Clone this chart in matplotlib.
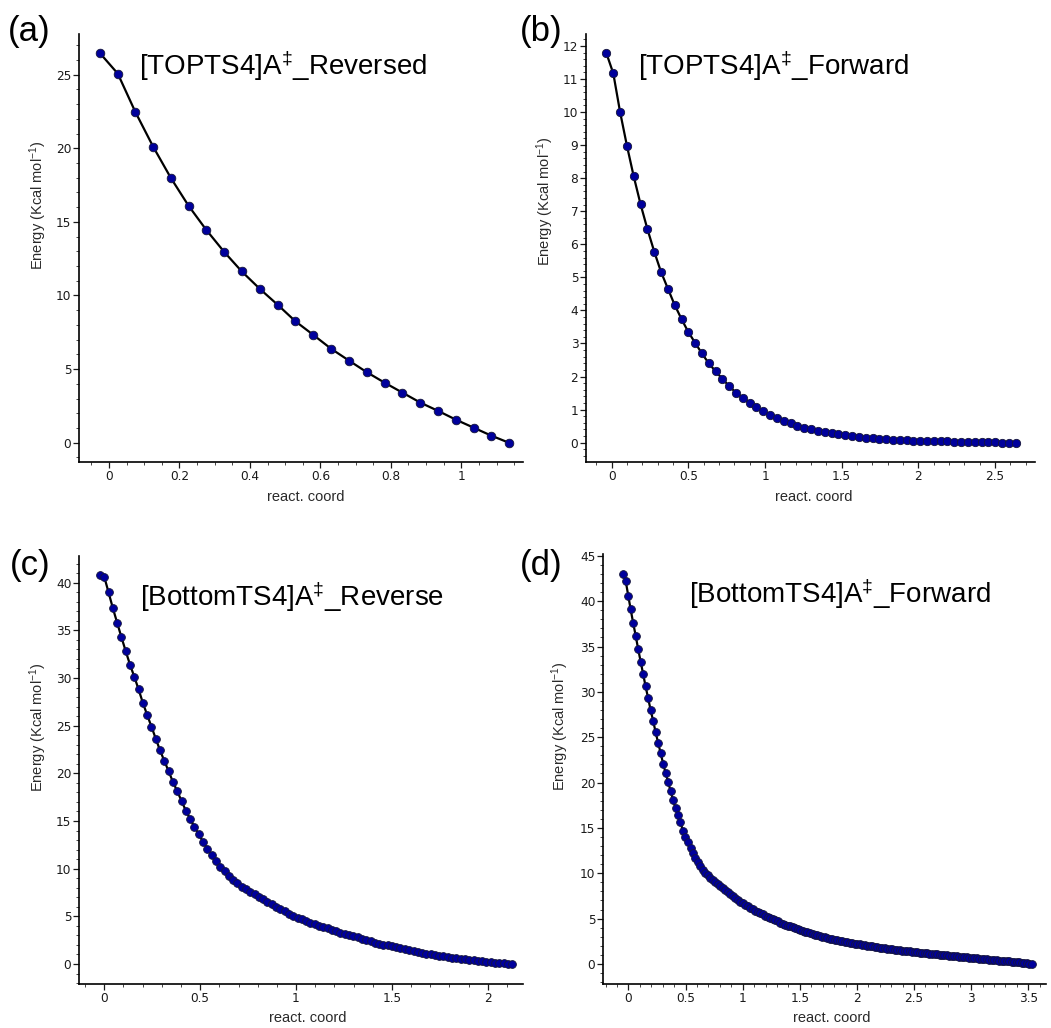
import matplotlib
matplotlib.use("Agg")
import matplotlib.pyplot as plt
from matplotlib.ticker import MultipleLocator, FuncFormatter

plt.rcParams["mathtext.fontset"] = "custom"
plt.rcParams["mathtext.rm"] = "Liberation Sans"
plt.rcParams["mathtext.it"] = "Liberation Sans"

# ---------------- data: IRC energy profiles ----------------
top_rev_x = [-0.026, 0.025, 0.075, 0.126, 0.176, 0.226, 0.276, 0.327, 0.377, 0.429,
             0.481, 0.529, 0.580, 0.630, 0.681, 0.731, 0.782, 0.833, 0.884, 0.935,
             0.985, 1.035, 1.085, 1.135]
top_rev_e = [26.47, 25.07, 22.46, 20.08, 17.97, 16.09, 14.46, 12.96, 11.63, 10.43,
             9.32, 8.25, 7.32, 6.39, 5.58, 4.80, 4.08, 3.40, 2.72, 2.15,
             1.56, 1.02, 0.48, 0.00]

top_fwd_x = [-0.035, 0.010, 0.054, 0.099, 0.143, 0.188, 0.232, 0.277, 0.321, 0.366,
             0.410, 0.455, 0.499, 0.544, 0.588, 0.633, 0.677, 0.722, 0.766, 0.811,
             0.855, 0.900, 0.944, 0.989, 1.033, 1.078, 1.122, 1.167, 1.211, 1.256,
             1.300, 1.345, 1.389, 1.434, 1.478, 1.523, 1.567, 1.612, 1.656, 1.701,
             1.745, 1.790, 1.834, 1.879, 1.923, 1.968, 2.012, 2.057, 2.101, 2.146,
             2.190, 2.235, 2.279, 2.324, 2.368, 2.413, 2.457, 2.502, 2.546, 2.591,
             2.635]
top_fwd_e = [11.78, 11.17, 10.01, 8.98, 8.06, 7.21, 6.47, 5.78, 5.17, 4.66,
             4.17, 3.74, 3.35, 3.02, 2.70, 2.40, 2.16, 1.93, 1.71, 1.51,
             1.36, 1.20, 1.08, 0.96, 0.84, 0.75, 0.67, 0.59, 0.51, 0.45,
             0.40, 0.36, 0.32, 0.28, 0.25, 0.22, 0.20, 0.17, 0.15, 0.13,
             0.11, 0.10, 0.09, 0.08, 0.07, 0.06, 0.06, 0.05, 0.04, 0.04,
             0.04, 0.03, 0.03, 0.02, 0.02, 0.01, 0.01, 0.01, 0.00, 0.00,
             0.00]

bot_rev_x = [-0.023, 0.000, 0.022, 0.045, 0.067, 0.089, 0.112, 0.134, 0.157, 0.179,
             0.201, 0.224, 0.246, 0.269, 0.291, 0.313, 0.336, 0.358, 0.381, 0.403,
             0.425, 0.448, 0.470, 0.493, 0.515, 0.537, 0.560, 0.582, 0.605, 0.627,
             0.649, 0.672, 0.694, 0.717, 0.739, 0.761, 0.784, 0.806, 0.829, 0.851,
             0.873, 0.896, 0.918, 0.941, 0.963, 0.985, 1.008, 1.030, 1.053, 1.075,
             1.097, 1.120, 1.142, 1.165, 1.187, 1.209, 1.232, 1.254, 1.277, 1.299,
             1.321, 1.344, 1.366, 1.389, 1.411, 1.433, 1.456, 1.478, 1.501, 1.523,
             1.545, 1.568, 1.590, 1.613, 1.635, 1.657, 1.680, 1.702, 1.725, 1.747,
             1.769, 1.792, 1.814, 1.837, 1.859, 1.881, 1.904, 1.926, 1.949, 1.971,
             1.993, 2.016, 2.038, 2.061, 2.083, 2.105, 2.128]
bot_rev_e = [40.8, 40.6, 39.0, 37.3, 35.8, 34.3, 32.8, 31.4, 30.1, 28.8,
             27.4, 26.1, 24.9, 23.6, 22.4, 21.3, 20.2, 19.1, 18.1, 17.1,
             16.1, 15.2, 14.4, 13.6, 12.8, 12.1, 11.4, 10.8, 10.2, 9.75,
             9.25, 8.82, 8.45, 8.12, 7.83, 7.56, 7.30, 7.04, 6.78, 6.52,
             6.26, 6.00, 5.75, 5.52, 5.28, 5.06, 4.86, 4.67, 4.50, 4.34,
             4.18, 4.02, 3.88, 3.73, 3.58, 3.44, 3.30, 3.17, 3.04, 2.92,
             2.80, 2.66, 2.52, 2.38, 2.25, 2.14, 2.04, 1.94, 1.84, 1.73,
             1.63, 1.54, 1.45, 1.36, 1.27, 1.18, 1.09, 1.02, 0.95, 0.88,
             0.82, 0.75, 0.68, 0.62, 0.57, 0.51, 0.45, 0.40, 0.34, 0.29,
             0.24, 0.19, 0.15, 0.11, 0.07, 0.03, 0.00]

bot_fwd_x = [-0.046, -0.024, -0.002, 0.019, 0.041, 0.063, 0.085, 0.107, 0.128, 0.150,
             0.172, 0.194, 0.216, 0.237, 0.259, 0.281, 0.303, 0.325, 0.346, 0.368,
             0.390, 0.412, 0.434, 0.455, 0.477, 0.499, 0.521, 0.543, 0.564, 0.586,
             0.608, 0.630, 0.652, 0.673, 0.695, 0.717, 0.739, 0.761, 0.782, 0.804,
             0.826, 0.848, 0.870, 0.891, 0.913, 0.935, 0.957, 0.979, 1.000, 1.022,
             1.044, 1.066, 1.088, 1.109, 1.131, 1.153, 1.175, 1.197, 1.218, 1.240,
             1.262, 1.284, 1.306, 1.327, 1.349, 1.371, 1.393, 1.415, 1.436, 1.458,
             1.480, 1.502, 1.524, 1.545, 1.567, 1.589, 1.611, 1.633, 1.654, 1.676,
             1.698, 1.720, 1.742, 1.763, 1.785, 1.807, 1.829, 1.851, 1.872, 1.894,
             1.916, 1.938, 1.960, 1.981, 2.003, 2.025, 2.047, 2.069, 2.090, 2.112,
             2.134, 2.156, 2.178, 2.199, 2.221, 2.243, 2.265, 2.287, 2.308, 2.330,
             2.352, 2.374, 2.396, 2.417, 2.439, 2.461, 2.483, 2.505, 2.526, 2.548,
             2.570, 2.592, 2.614, 2.635, 2.657, 2.679, 2.701, 2.723, 2.744, 2.766,
             2.788, 2.810, 2.832, 2.853, 2.875, 2.897, 2.919, 2.941, 2.962, 2.984,
             3.006, 3.028, 3.050, 3.071, 3.093, 3.115, 3.137, 3.159, 3.180, 3.202,
             3.224, 3.246, 3.268, 3.289, 3.311, 3.333, 3.355, 3.377, 3.398, 3.420,
             3.442, 3.464, 3.486, 3.507, 3.529]
bot_fwd_e = [42.98, 42.2, 40.6, 39.1, 37.6, 36.2, 34.7, 33.3, 32.0, 30.6,
             29.3, 28.0, 26.8, 25.6, 24.4, 23.3, 22.1, 21.1, 20.1, 19.1,
             18.1, 17.2, 16.4, 15.6, 14.7, 14.0, 13.4, 12.8, 12.2, 11.7,
             11.2, 10.8, 10.4, 10.05, 9.8, 9.53, 9.29, 9.04, 8.81, 8.58,
             8.35, 8.12, 7.90, 7.69, 7.47, 7.25, 7.05, 6.86, 6.69, 6.51,
             6.35, 6.19, 6.03, 5.88, 5.74, 5.60, 5.46, 5.34, 5.22, 5.10,
             4.96, 4.83, 4.70, 4.57, 4.45, 4.34, 4.23, 4.13, 4.03, 3.94,
             3.84, 3.75, 3.66, 3.56, 3.47, 3.38, 3.30, 3.23, 3.16, 3.09,
             3.01, 2.94, 2.86, 2.79, 2.73, 2.67, 2.62, 2.56, 2.51, 2.45,
             2.39, 2.33, 2.29, 2.24, 2.20, 2.15, 2.10, 2.06, 2.02, 1.97,
             1.93, 1.88, 1.84, 1.80, 1.76, 1.72, 1.69, 1.65, 1.62, 1.59,
             1.55, 1.52, 1.48, 1.45, 1.41, 1.38, 1.35, 1.31, 1.28, 1.25,
             1.22, 1.20, 1.17, 1.14, 1.12, 1.09, 1.06, 1.03, 1.01, 0.98,
             0.95, 0.93, 0.90, 0.87, 0.84, 0.82, 0.79, 0.76, 0.73, 0.71,
             0.68, 0.65, 0.62, 0.59, 0.56, 0.54, 0.51, 0.49, 0.46, 0.43,
             0.41, 0.38, 0.36, 0.33, 0.30, 0.28, 0.26, 0.23, 0.21, 0.18,
             0.15, 0.12, 0.08, 0.04, 0.00]

panel_letters = ["(a)", "(b)", "(c)", "(d)"]
panel_titles = [r"[TOPTS4]A$^{\ddag}$_Reversed",
                r"[TOPTS4]A$^{\ddag}$_Forward",
                r"[BottomTS4]A$^{\ddag}$_Reverse",
                r"[BottomTS4]A$^{\ddag}$_Forward"]
y_label = r"Energy (Kcal mol$^{-1}$)"
x_label = "react. coord"

# ---------------- layout ----------------
W, H = 1051, 1028
fig = plt.figure(figsize=(W / 100, H / 100), dpi=100)
fig.patch.set_facecolor("white")


def px_axes(left, top, right, bottom):
    return fig.add_axes([left / W, 1 - bottom / H, (right - left) / W, (bottom - top) / H])


panels = [
    dict(box=(79, 34, 523, 462), xlim=(-0.085, 1.175), ylim=(-1.31, 27.76),
         xmaj=0.2, xmin=0.05, ymaj=5, ymin=1, x=top_rev_x, y=top_rev_e, ms=6.2,
         title_xy=(0.136, 0.925), ylab_xy=(-0.067, 0.60), xlab_xy=(0.51, -0.066),
         letter_xy=(8, 32)),
    dict(box=(586, 34, 1035, 462), xlim=(-0.168, 2.761), ylim=(-0.584, 12.36),
         xmaj=0.5, xmin=0.1, ymaj=1, ymin=0.2, x=top_fwd_x, y=top_fwd_e, ms=6.0,
         title_xy=(0.116, 0.925), ylab_xy=(-0.067, 0.61), xlab_xy=(0.508, -0.066),
         letter_xy=(520, 32)),
    dict(box=(79, 556, 523, 984), xlim=(-0.132, 2.184), ylim=(-2.10, 42.8),
         xmaj=0.5, xmin=0.1, ymaj=5, ymin=1, x=bot_rev_x, y=bot_rev_e, ms=5.6,
         title_xy=(0.137, 0.904), ylab_xy=(-0.067, 0.60), xlab_xy=(0.516, -0.062),
         letter_xy=(10, 565)),
    dict(box=(603, 554, 1046, 984), xlim=(-0.223, 3.655), ylim=(-2.21, 45.2),
         xmaj=0.5, xmin=0.1, ymaj=5, ymin=1, x=bot_fwd_x, y=bot_fwd_e, ms=5.6,
         title_xy=(0.195, 0.907), ylab_xy=(-0.073, 0.60), xlab_xy=(0.516, -0.062),
         letter_xy=(520, 565)),
]

fmt = FuncFormatter(lambda v, p: "{:g}".format(round(v, 6) + 0.0))

for p, letter, title in zip(panels, panel_letters, panel_titles):
    ax = px_axes(*p["box"])
    ax.plot(p["x"], p["y"], color="black", lw=1.6, marker="o", ms=p["ms"],
            mfc="#00009c", mec="#15153a", mew=0.6, zorder=3, clip_on=False)
    ax.set_xlim(*p["xlim"])
    ax.set_ylim(*p["ylim"])
    for side in ("top", "right"):
        ax.spines[side].set_visible(False)
    for side in ("left", "bottom"):
        ax.spines[side].set_linewidth(1.2)
    ax.xaxis.set_major_locator(MultipleLocator(p["xmaj"]))
    ax.xaxis.set_minor_locator(MultipleLocator(p["xmin"]))
    ax.yaxis.set_major_locator(MultipleLocator(p["ymaj"]))
    ax.yaxis.set_minor_locator(MultipleLocator(p["ymin"]))
    ax.xaxis.set_major_formatter(fmt)
    ax.yaxis.set_major_formatter(fmt)
    ax.tick_params(axis="both", which="major", direction="out", length=4, width=0.9,
                   labelsize=8.7, colors="#1a1a1a", pad=1.5)
    ax.tick_params(axis="both", which="minor", direction="out", length=2.5, width=0.7,
                   color="#444444")
    for lab in ax.get_xticklabels() + ax.get_yticklabels():
        lab.set_family("DejaVu Sans")
    ax.set_ylabel(y_label, fontsize=10.5, family="Liberation Sans", color="#2a2a2a")
    ax.yaxis.set_label_coords(*p["ylab_xy"])
    ax.set_xlabel(x_label, fontsize=10.5, family="Liberation Sans", color="#2a2a2a")
    ax.xaxis.set_label_coords(*p["xlab_xy"])
    ax.text(p["title_xy"][0], p["title_xy"][1], title, transform=ax.transAxes,
            fontsize=20, family="Liberation Sans", ha="left", va="center")
    fig.text(p["letter_xy"][0] / W, 1 - p["letter_xy"][1] / H, letter,
             fontsize=25, family="Liberation Sans", ha="left", va="center")

fig.savefig("out.png", dpi=100)
